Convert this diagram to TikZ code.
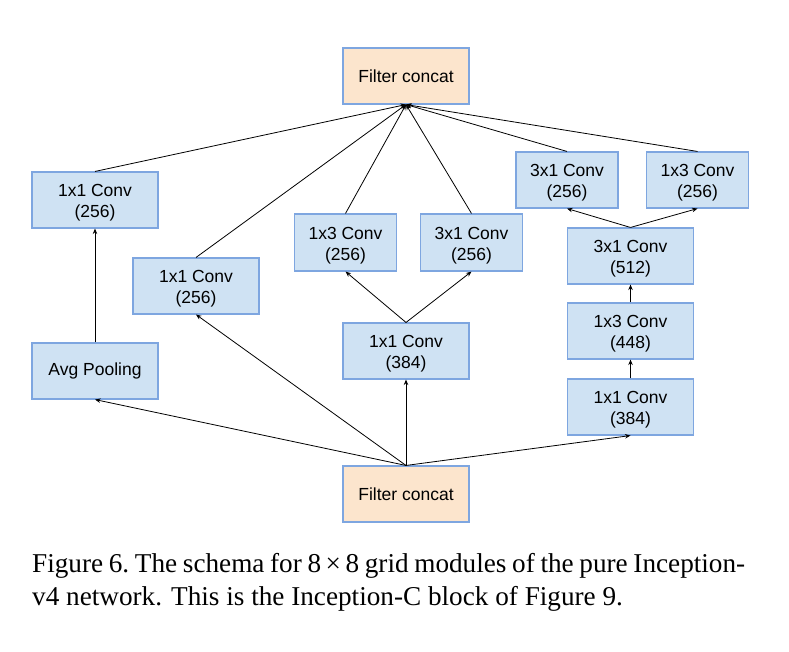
\documentclass[tikz,border=0pt]{standalone}
\usepackage{fontspec}
\setmainfont{Liberation Serif}
\newfontfamily\boxfont{Liberation Sans}
\usetikzlibrary{arrows.meta}
\definecolor{boxfill}{HTML}{CFE2F3}
\definecolor{catfill}{HTML}{FCE5CD}
\definecolor{boxedge}{HTML}{7EA6E0}
\newcommand\firstln{\rule{0pt}{18.5pt}}
\begin{document}
\begin{tikzpicture}[x=1pt,y=-1pt,
  blk/.style={draw=boxedge,line width=1.1pt,fill=boxfill,inner sep=0pt,
    minimum width=126pt,minimum height=56pt,align=center,
    font=\boxfont\fontsize{17.5}{21}\selectfont},
  narrow/.style={blk,minimum width=102pt},
  cat/.style={blk,fill=catfill},
  arr/.style={line width=0.8pt,-{Stealth[length=5.5pt,width=4.5pt]}},
  captext/.style={anchor=base west,inner sep=0pt,font=\fontsize{27.2}{33}\selectfont}]
\useasboundingbox (0,0) rectangle (789,651);
\node[cat] (top) at (406,76) {Filter concat};
\node[cat] (bot) at (406,494) {Filter concat};
\node[blk] (c1) at (95,200) {\firstln 1x1 Conv\\(256)};
\node[blk] (avg) at (95,371) {Avg Pooling};
\node[blk] (c2) at (196,286) {\firstln 1x1 Conv\\(256)};
\node[narrow,minimum height=57pt] (c3) at (345.5,242.5) {\firstln 1x3 Conv\\(256)};
\node[narrow,minimum height=57pt] (c4) at (471.5,242.5) {\firstln 3x1 Conv\\(256)};
\node[blk] (c10) at (406,351) {\firstln 1x1 Conv\\(384)};
\node[narrow] (c5) at (567,180) {\firstln 3x1 Conv\\(256)};
\node[narrow] (c6) at (697.5,180) {\firstln 1x3 Conv\\(256)};
\node[blk] (c7) at (630.5,256) {\firstln 3x1 Conv\\(512)};
\node[blk] (c8) at (630.5,331) {\firstln 1x3 Conv\\(448)};
\node[blk] (c9) at (630.5,407) {\firstln 1x1 Conv\\(384)};
% into top concat
\foreach \n in {c1,c2,c3,c4,c5,c6}
  \draw[arr] (\n.north) -- (top.south);
% from bottom concat
\foreach \n in {avg,c2,c10,c9}
  \draw[arr] (bot.north) -- (\n.south);
\draw[arr] (avg.north) -- (c1.south);
\draw[arr] (c10.north) -- (c3.south);
\draw[arr] (c10.north) -- (c4.south);
\draw[arr] (c9.north) -- (c8.south);
\draw[arr] (c8.north) -- (c7.south);
\draw[arr] (c7.north) -- (c5.south);
\draw[arr] (c7.north) -- (c6.south);
\node[captext] (cap1) at (32,572) {\makebox[713pt][s]{Figure 6.\ The schema for 8\,×\,8 grid modules of the pure Inception-}};
\node[captext] (cap2) at (32,605) {v4 network. This is the Inception-C block of Figure 9.};
\end{tikzpicture}
\end{document}
